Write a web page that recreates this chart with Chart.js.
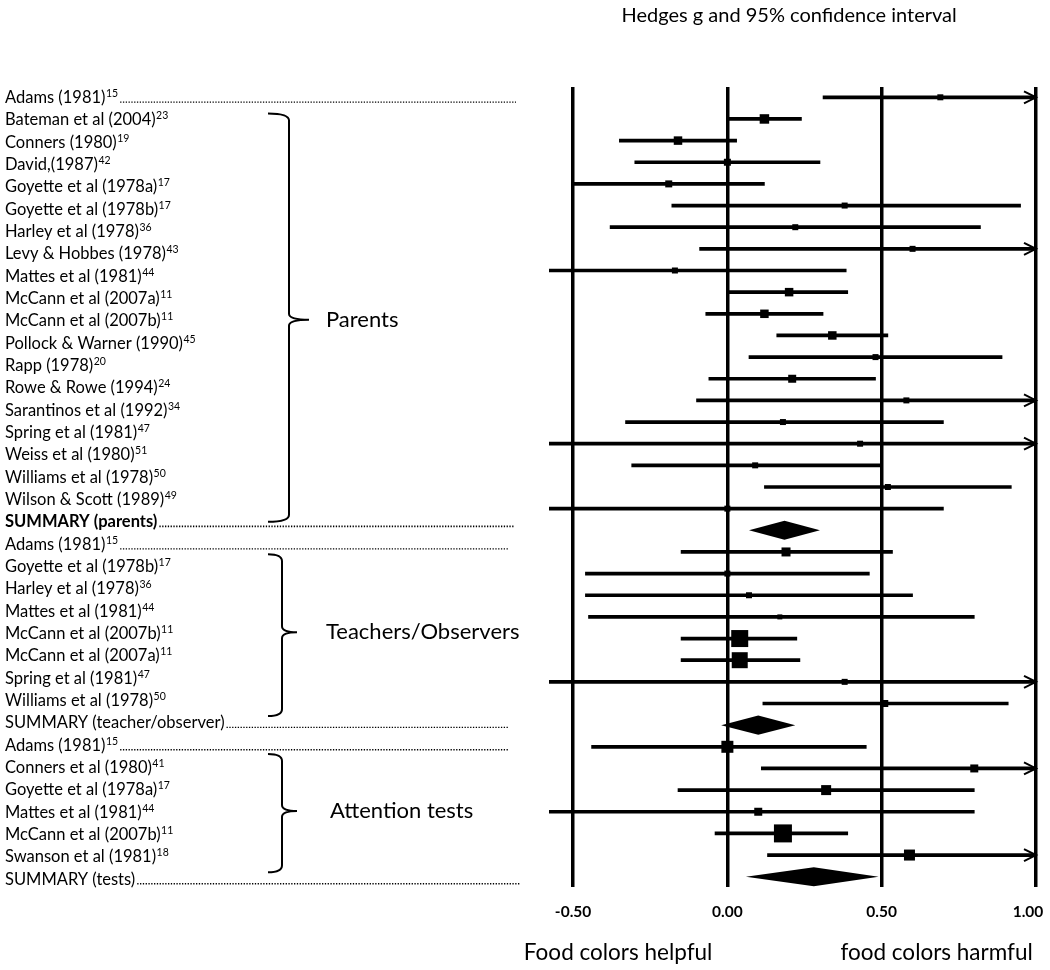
<!DOCTYPE html>
<html><head><meta charset="utf-8">
<script src="https://cdn.jsdelivr.net/npm/chart.js@4/dist/chart.umd.min.js"></script>
<style>html,body{margin:0;padding:0;background:#fff}#wrap{width:1050px;height:970px}</style>
</head><body><div id="wrap"><canvas id="c" width="1050" height="970"></canvas></div>
<script>
// ---------- DATA ----------
const studyLabels = ["Adams (1981)","Bateman et al (2004)","Conners (1980)","David,(1987)","Goyette et al (1978a)","Goyette et al (1978b)","Harley et al (1978)","Levy & Hobbes (1978)","Mattes et al (1981)","McCann et al (2007a)","McCann et al (2007b)","Pollock & Warner (1990)","Rapp (1978)","Rowe & Rowe (1994)","Sarantinos et al (1992)","Spring et al (1981)","Weiss et al (1980)","Williams et al (1978)","Wilson & Scott (1989)","SUMMARY (parents)","Adams (1981)","Goyette et al (1978b)","Harley et al (1978)","Mattes et al (1981)","McCann et al (2007b)","McCann et al (2007a)","Spring et al (1981)","Williams et al (1978)","SUMMARY (teacher/observer)","Adams (1981)","Conners et al (1980)","Goyette et al (1978a)","Mattes et al (1981)","McCann et al (2007b)","Swanson et al (1981)","SUMMARY (tests)"];
const refNumbers = ["15","23","19","42","17","17","36","43","44","11","11","45","20","24","34","47","51","50","49","","15","17","36","44","11","11","47","50","","15","41","17","44","11","18",""];
const groupNames = ["Parents","Teachers/Observers","Attention tests"];

// plotted rows (top to bottom); kind: s = study, d = summary diamond
const rowKind = ["s","s","s","s","s","s","s","s","s","s","s","s","s","s","s","s","s","s","s","s","d",
                 "s","s","s","s","s","s","s","s","d",
                 "s","s","s","s","s","s","d"];
const hedgesG = [0.69,0.12,-0.16,0.00,-0.19,0.38,0.22,0.60,-0.17,0.20,0.12,0.34,0.48,0.21,0.58,0.18,0.43,0.09,0.52,0.00,0.185,
                 0.19,0.00,0.07,0.17,0.04,0.04,0.38,0.51,0.10,
                 0.00,0.80,0.32,0.10,0.18,0.59,0.28];
const ciLow   = [0.31,0.00,-0.35,-0.30,-0.50,-0.18,-0.38,-0.09,-0.65,0.00,-0.07,0.16,0.07,-0.06,-0.10,-0.33,-0.65,-0.31,0.12,-0.65,0.07,
                 -0.15,-0.46,-0.46,-0.45,-0.15,-0.15,-0.65,0.115,-0.02,
                 -0.44,0.11,-0.16,-0.65,-0.04,0.13,0.06];
const ciHigh  = [1.08,0.24,0.03,0.30,0.12,0.95,0.82,1.10,0.385,0.39,0.31,0.52,0.89,0.48,1.05,0.70,1.12,0.50,0.92,0.70,0.30,
                 0.535,0.46,0.60,0.80,0.225,0.235,1.15,0.91,0.22,
                 0.45,1.06,0.80,0.80,0.39,1.09,0.49];
const markerSide = [6,9.5,8.5,7,7,6,6,6,6,8.5,8.5,8.5,6,8,6,6,6,6,6,6,0,
                    9,6,6,5,17,16,6,7,0,
                    12,8,10,8,18,11,0];
const tickValues = [-0.5,0,0.5,1.0];
const tickLabels = ["-0.50","0.00","0.50","1.00"];
const axisTitle = "Hedges g and 95% confidence interval";
const leftNote = "Food colors helpful";
const rightNote = "food colors harmful";

// ---------- LAYOUT ----------
const FONT = "Lato";
const LABEL_X = 5;
const leaderEnds = {0:516, 19:514, 20:508, 28:509, 29:508, 35:520};
const brackets = [
  {top:0.72, mid:9.95, bot:19.0, x:289, hook:268, tip:309, tx:326},
  {top:20.45, mid:23.95, bot:27.7, x:282, hook:268, tip:297, tx:326},
  {top:29.4, mid:31.95, bot:34.7, x:282, hook:268, tip:297, tx:330}
];

const ROW_H = 21.65, LAB_H = 22.33, TOP = 87, AREA_H = 800, FIRST = 10.3;

const idx = rowKind.map((k,i)=>i);
const studyIdx = idx.filter(i=>rowKind[i]==='s');

const ciBars = studyIdx.map(i=>({y:i, x:[ciLow[i], ciHigh[i]]}));
const points = studyIdx.map(i=>({x:hedgesG[i], y:i, s:markerSide[i]}));

const decorPlugin = {
  id:'decor',
  afterDatasetsDraw(chart){
    const ctx = chart.ctx, xs = chart.scales.x, ys = chart.scales.y;
    ctx.save();
    ctx.fillStyle = '#000';
    rowKind.forEach((k,i)=>{
      if(k!=='d') return;
      const yc = ys.getPixelForValue(i), hh = ys.getPixelForValue(i+0.44)-yc;
      ctx.beginPath();
      ctx.moveTo(xs.getPixelForValue(ciLow[i]), yc);
      ctx.lineTo(xs.getPixelForValue(hedgesG[i]), yc-hh);
      ctx.lineTo(xs.getPixelForValue(ciHigh[i]), yc);
      ctx.lineTo(xs.getPixelForValue(hedgesG[i]), yc+hh);
      ctx.closePath(); ctx.fill();
    });
    ctx.strokeStyle = '#000'; ctx.lineWidth = 2;
    rowKind.forEach((k,i)=>{
      if(k!=='s' || ciHigh[i] <= xs.max) return;
      const yc = ys.getPixelForValue(i), xe = xs.getPixelForValue(xs.max);
      ctx.beginPath();
      ctx.moveTo(xe-12, yc-6); ctx.lineTo(xe, yc); ctx.lineTo(xe-12, yc+6);
      ctx.stroke();
    });
    ctx.restore();
  },
  afterDraw(chart){
    const ctx = chart.ctx, xs = chart.scales.x, yl = chart.scales.yL, ca = chart.chartArea;
    ctx.save();
    ctx.fillStyle = '#000'; ctx.strokeStyle = '#000';
    studyLabels.forEach((t,i)=>{
      const yc = yl.getPixelForValue(i), base = yc + 5.5;
      const bold = (i===19);
      ctx.font = (bold?'bold ':'') + '16.5px ' + FONT;
      ctx.textAlign = 'left'; ctx.textBaseline = 'alphabetic';
      ctx.fillText(t, LABEL_X, base);
      let w = ctx.measureText(t).width;
      if(refNumbers[i]){
        ctx.font = '10.5px ' + FONT;
        ctx.fillText(refNumbers[i], LABEL_X + w + 0.5, base - 6);
        w += ctx.measureText(refNumbers[i]).width + 0.5;
      }
      if(leaderEnds[i]){
        ctx.save();
        ctx.lineWidth = (bold?1.8:1.3);
        ctx.setLineDash([1.3,1.5]);
        ctx.beginPath();
        ctx.moveTo(LABEL_X + w + 2, base - 0.8);
        ctx.lineTo(leaderEnds[i], base - 0.8);
        ctx.stroke();
        ctx.restore();
      }
    });
    ctx.lineWidth = 2;
    brackets.forEach((b,g)=>{
      const yt = yl.getPixelForValue(b.top), ym = yl.getPixelForValue(b.mid), yb = yl.getPixelForValue(b.bot);
      ctx.beginPath();
      ctx.moveTo(b.hook, yt);
      ctx.quadraticCurveTo(b.x, yt, b.x, yt+7);
      ctx.lineTo(b.x, ym-6);
      ctx.quadraticCurveTo(b.x, ym, b.tip, ym);
      ctx.moveTo(b.x, ym+6);
      ctx.quadraticCurveTo(b.x, ym, b.tip, ym);
      ctx.moveTo(b.x, ym+6);
      ctx.lineTo(b.x, yb-7);
      ctx.quadraticCurveTo(b.x, yb, b.hook, yb);
      ctx.stroke();
      ctx.font = '22px ' + FONT;
      ctx.textAlign = 'left'; ctx.textBaseline = 'middle';
      ctx.fillText(groupNames[g], b.tx, ym);
    });
    ctx.font = 'bold 15.5px ' + FONT;
    ctx.textAlign = 'center'; ctx.textBaseline = 'middle';
    tickValues.forEach((v,i)=>{
      let px = xs.getPixelForValue(v);
      px = Math.min(px, chart.width - 22);
      ctx.fillText(tickLabels[i], px, ca.bottom + 25);
    });
    ctx.font = '20px ' + FONT;
    ctx.fillText(axisTitle, xs.getPixelForValue(0.2), 16);
    ctx.font = '22.5px ' + FONT;
    ctx.fillText(leftNote, xs.getPixelForValue(-0.354), 953);
    ctx.fillText(rightNote, xs.getPixelForValue(0.678), 953);
    ctx.restore();
  }
};

new Chart(document.getElementById('c'), {
  type: 'scatter',
  data: {
    datasets: [
      {type:'bar', indexAxis:'y', data: ciBars, xAxisID:'x', yAxisID:'y',
       backgroundColor:'#000', borderWidth:0, barThickness:3, grouped:false, order:2},
      {type:'scatter', data: points, xAxisID:'x', yAxisID:'y',
       pointStyle:'rect', backgroundColor:'#000', borderWidth:0,
       pointRadius: c => (c.raw && c.raw.s ? c.raw.s/ (2*Math.SQRT1_2) : 0), order:1}
    ]
  },
  options: {
    responsive:false, animation:false, events:[],
    layout:{padding:{left:549, right:14, top:TOP, bottom:0}},
    plugins:{legend:{display:false}, tooltip:{enabled:false}},
    scales:{
      x:{type:'linear', position:'bottom', min:-0.578, max:1.0, offset:false,
         afterBuildTicks: s => { s.ticks = tickValues.map(v=>({value:v})); },
         afterFit: s => { s.height = 970 - TOP - AREA_H; },
         ticks:{display:false},
         border:{display:false},
         grid:{color:'#000', lineWidth:3.5, drawTicks:false, offset:false}},
      y:{type:'linear', reverse:true, display:false, offset:false,
         min: -FIRST/ROW_H, max: -FIRST/ROW_H + AREA_H/ROW_H},
      yL:{type:'linear', axis:'y', reverse:true, display:false, offset:false,
         min: -(97.5-TOP)/LAB_H, max: -(97.5-TOP)/LAB_H + AREA_H/LAB_H}
    }
  },
  plugins:[decorPlugin]
});
</script>
</body></html>
